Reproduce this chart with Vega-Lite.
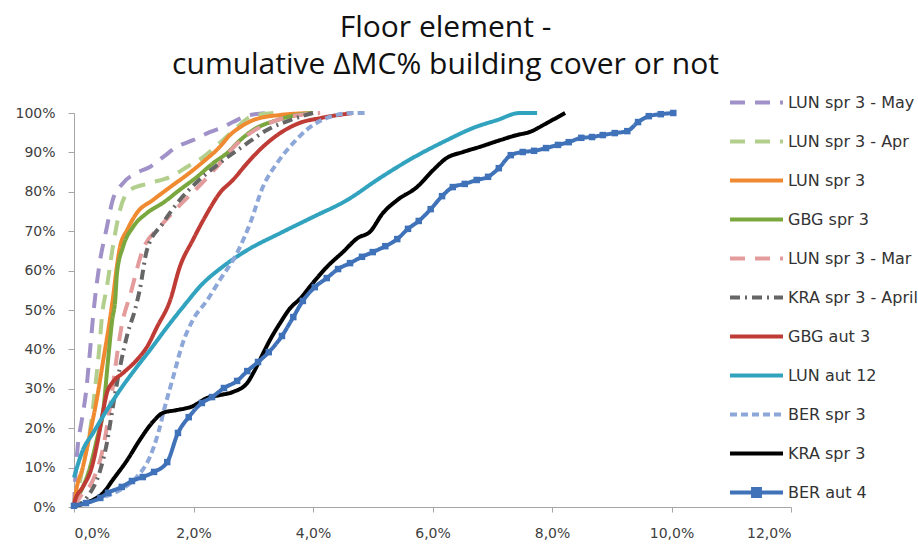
{
"$schema": "https://vega.github.io/schema/vega-lite/v6.json",
"autosize": {"type": "none"},
"padding": {"left": 74, "top": 113, "right": 127, "bottom": 37},
"width": 717,
"height": 394,
"background": "white",
"title": {"text": ["Floor element   -", "cumulative ΔMC% building cover or not"], "font": "Open Sans", "fontSize": 30, "fontWeight": "normal", "color": "#111111", "anchor": "middle", "dx": 13, "lineHeight": 37, "offset": -6},
"config": {"view": {"stroke": null}, "axis": {"grid": false, "labelFont": "DejaVu Sans", "labelColor": "#404040", "domainColor": "#a6a6a6", "tickColor": "#a6a6a6", "tickSize": 5, "title": null}},
"data": {"values": [
{"s":"LUN spr 3 - May","x":0,"y":0},{"s":"LUN spr 3 - May","x":0.02,"y":7},{"s":"LUN spr 3 - May","x":0.06,"y":15},{"s":"LUN spr 3 - May","x":0.13,"y":22},{"s":"LUN spr 3 - May","x":0.2,"y":29},{"s":"LUN spr 3 - May","x":0.27,"y":40},{"s":"LUN spr 3 - May","x":0.33,"y":50},{"s":"LUN spr 3 - May","x":0.42,"y":61},{"s":"LUN spr 3 - May","x":0.55,"y":71},{"s":"LUN spr 3 - May","x":0.65,"y":78},{"s":"LUN spr 3 - May","x":0.82,"y":82.2},{"s":"LUN spr 3 - May","x":1.05,"y":84.8},{"s":"LUN spr 3 - May","x":1.27,"y":86.3},{"s":"LUN spr 3 - May","x":1.49,"y":88.8},{"s":"LUN spr 3 - May","x":1.72,"y":91.4},{"s":"LUN spr 3 - May","x":1.99,"y":93.1},{"s":"LUN spr 3 - May","x":2.28,"y":95.2},{"s":"LUN spr 3 - May","x":2.49,"y":96.4},{"s":"LUN spr 3 - May","x":2.66,"y":97.7},{"s":"LUN spr 3 - May","x":2.95,"y":99.5},{"s":"LUN spr 3 - May","x":3.28,"y":100},
{"s":"LUN spr 3 - Apr","x":0,"y":0},{"s":"LUN spr 3 - Apr","x":0.07,"y":4.3},{"s":"LUN spr 3 - Apr","x":0.17,"y":11.9},{"s":"LUN spr 3 - Apr","x":0.27,"y":19.5},{"s":"LUN spr 3 - Apr","x":0.35,"y":29.7},{"s":"LUN spr 3 - Apr","x":0.42,"y":39.8},{"s":"LUN spr 3 - Apr","x":0.47,"y":48.7},{"s":"LUN spr 3 - Apr","x":0.55,"y":55.8},{"s":"LUN spr 3 - Apr","x":0.65,"y":66},{"s":"LUN spr 3 - Apr","x":0.77,"y":75.4},{"s":"LUN spr 3 - Apr","x":0.94,"y":80.5},{"s":"LUN spr 3 - Apr","x":1.27,"y":82.2},{"s":"LUN spr 3 - Apr","x":1.61,"y":83.8},{"s":"LUN spr 3 - Apr","x":1.89,"y":86.3},{"s":"LUN spr 3 - Apr","x":2.16,"y":88.8},{"s":"LUN spr 3 - Apr","x":2.49,"y":93.1},{"s":"LUN spr 3 - Apr","x":2.73,"y":96.4},{"s":"LUN spr 3 - Apr","x":2.95,"y":99},{"s":"LUN spr 3 - Apr","x":3.36,"y":100},
{"s":"LUN spr 3","x":0,"y":0},{"s":"LUN spr 3","x":0.02,"y":2.5},{"s":"LUN spr 3","x":0.15,"y":10.2},{"s":"LUN spr 3","x":0.27,"y":18.8},{"s":"LUN spr 3","x":0.38,"y":27.2},{"s":"LUN spr 3","x":0.49,"y":37.3},{"s":"LUN spr 3","x":0.6,"y":47.5},{"s":"LUN spr 3","x":0.66,"y":54},{"s":"LUN spr 3","x":0.7,"y":59},{"s":"LUN spr 3","x":0.77,"y":66},{"s":"LUN spr 3","x":0.89,"y":70.3},{"s":"LUN spr 3","x":1.05,"y":74.6},{"s":"LUN spr 3","x":1.32,"y":77.9},{"s":"LUN spr 3","x":1.61,"y":81.2},{"s":"LUN spr 3","x":1.89,"y":84.3},{"s":"LUN spr 3","x":2.16,"y":87.6},{"s":"LUN spr 3","x":2.44,"y":91.4},{"s":"LUN spr 3","x":2.61,"y":94.4},{"s":"LUN spr 3","x":2.78,"y":96.4},{"s":"LUN spr 3","x":3,"y":98.2},{"s":"LUN spr 3","x":3.45,"y":99.5},{"s":"LUN spr 3","x":4,"y":100},
{"s":"GBG spr 3","x":0,"y":0},{"s":"GBG spr 3","x":0.05,"y":1.8},{"s":"GBG spr 3","x":0.27,"y":10.2},{"s":"GBG spr 3","x":0.38,"y":17},{"s":"GBG spr 3","x":0.49,"y":24.6},{"s":"GBG spr 3","x":0.57,"y":37.3},{"s":"GBG spr 3","x":0.64,"y":47.5},{"s":"GBG spr 3","x":0.69,"y":52.5},{"s":"GBG spr 3","x":0.72,"y":59.4},{"s":"GBG spr 3","x":0.82,"y":66},{"s":"GBG spr 3","x":0.99,"y":71.1},{"s":"GBG spr 3","x":1.22,"y":74.6},{"s":"GBG spr 3","x":1.49,"y":77.2},{"s":"GBG spr 3","x":1.77,"y":80.5},{"s":"GBG spr 3","x":2.06,"y":83.8},{"s":"GBG spr 3","x":2.33,"y":87.3},{"s":"GBG spr 3","x":2.56,"y":89.8},{"s":"GBG spr 3","x":2.78,"y":93.1},{"s":"GBG spr 3","x":3,"y":95.7},{"s":"GBG spr 3","x":3.4,"y":98.2},{"s":"GBG spr 3","x":3.73,"y":99.5},{"s":"GBG spr 3","x":4,"y":100},
{"s":"LUN spr 3 - Mar","x":0,"y":0},{"s":"LUN spr 3 - Mar","x":0.1,"y":2.5},{"s":"LUN spr 3 - Mar","x":0.32,"y":6.9},{"s":"LUN spr 3 - Mar","x":0.49,"y":15.2},{"s":"LUN spr 3 - Mar","x":0.6,"y":25.1},{"s":"LUN spr 3 - Mar","x":0.72,"y":38.6},{"s":"LUN spr 3 - Mar","x":0.8,"y":46.2},{"s":"LUN spr 3 - Mar","x":0.94,"y":53.8},{"s":"LUN spr 3 - Mar","x":1.15,"y":65.2},{"s":"LUN spr 3 - Mar","x":1.44,"y":71.1},{"s":"LUN spr 3 - Mar","x":1.77,"y":76.6},{"s":"LUN spr 3 - Mar","x":2.11,"y":81.7},{"s":"LUN spr 3 - Mar","x":2.39,"y":86.3},{"s":"LUN spr 3 - Mar","x":2.69,"y":91.6},{"s":"LUN spr 3 - Mar","x":3,"y":95.4},{"s":"LUN spr 3 - Mar","x":3.36,"y":98},{"s":"LUN spr 3 - Mar","x":3.78,"y":99.5},{"s":"LUN spr 3 - Mar","x":4.12,"y":100},
{"s":"KRA spr 3 - April","x":0,"y":0},{"s":"KRA spr 3 - April","x":0.22,"y":2.5},{"s":"KRA spr 3 - April","x":0.44,"y":9.4},{"s":"KRA spr 3 - April","x":0.55,"y":16.2},{"s":"KRA spr 3 - April","x":0.65,"y":25.4},{"s":"KRA spr 3 - April","x":0.77,"y":35.5},{"s":"KRA spr 3 - April","x":0.9,"y":44.2},{"s":"KRA spr 3 - April","x":1.02,"y":50},{"s":"KRA spr 3 - April","x":1.1,"y":55.1},{"s":"KRA spr 3 - April","x":1.22,"y":65.2},{"s":"KRA spr 3 - April","x":1.49,"y":72.1},{"s":"KRA spr 3 - April","x":1.77,"y":77.9},{"s":"KRA spr 3 - April","x":2.06,"y":82.5},{"s":"KRA spr 3 - April","x":2.44,"y":87.3},{"s":"KRA spr 3 - April","x":2.86,"y":91.9},{"s":"KRA spr 3 - April","x":3.23,"y":95.7},{"s":"KRA spr 3 - April","x":3.62,"y":98.2},{"s":"KRA spr 3 - April","x":4,"y":100},
{"s":"GBG aut 3","x":0,"y":0},{"s":"GBG aut 3","x":0.02,"y":1.8},{"s":"GBG aut 3","x":0.15,"y":5.1},{"s":"GBG aut 3","x":0.3,"y":10.2},{"s":"GBG aut 3","x":0.4,"y":17},{"s":"GBG aut 3","x":0.49,"y":24.6},{"s":"GBG aut 3","x":0.55,"y":28.9},{"s":"GBG aut 3","x":0.65,"y":31.7},{"s":"GBG aut 3","x":0.82,"y":34},{"s":"GBG aut 3","x":1.05,"y":37.3},{"s":"GBG aut 3","x":1.22,"y":40.6},{"s":"GBG aut 3","x":1.39,"y":45.7},{"s":"GBG aut 3","x":1.61,"y":52.5},{"s":"GBG aut 3","x":1.77,"y":60.9},{"s":"GBG aut 3","x":1.99,"y":67.8},{"s":"GBG aut 3","x":2.23,"y":74.6},{"s":"GBG aut 3","x":2.44,"y":79.7},{"s":"GBG aut 3","x":2.66,"y":83},{"s":"GBG aut 3","x":2.9,"y":87.3},{"s":"GBG aut 3","x":3.16,"y":91.4},{"s":"GBG aut 3","x":3.45,"y":94.9},{"s":"GBG aut 3","x":3.78,"y":97.5},{"s":"GBG aut 3","x":4.12,"y":98.7},{"s":"GBG aut 3","x":4.67,"y":100},
{"s":"LUN aut 12","x":0,"y":7.5},{"s":"LUN aut 12","x":0.15,"y":14.5},{"s":"LUN aut 12","x":0.32,"y":18.8},{"s":"LUN aut 12","x":0.55,"y":24.6},{"s":"LUN aut 12","x":0.77,"y":29.7},{"s":"LUN aut 12","x":1.05,"y":35.5},{"s":"LUN aut 12","x":1.27,"y":39.8},{"s":"LUN aut 12","x":1.56,"y":45.7},{"s":"LUN aut 12","x":1.89,"y":52},{"s":"LUN aut 12","x":2.11,"y":56},{"s":"LUN aut 12","x":2.49,"y":61},{"s":"LUN aut 12","x":2.9,"y":65.2},{"s":"LUN aut 12","x":3.45,"y":69.5},{"s":"LUN aut 12","x":4,"y":73.6},{"s":"LUN aut 12","x":4.57,"y":77.9},{"s":"LUN aut 12","x":5.12,"y":83.5},{"s":"LUN aut 12","x":5.67,"y":88.6},{"s":"LUN aut 12","x":6.24,"y":93.1},{"s":"LUN aut 12","x":6.68,"y":96.2},{"s":"LUN aut 12","x":7.08,"y":98.2},{"s":"LUN aut 12","x":7.46,"y":100},{"s":"LUN aut 12","x":7.75,"y":100},
{"s":"BER spr 3","x":0,"y":0},{"s":"BER spr 3","x":0.15,"y":1},{"s":"BER spr 3","x":0.49,"y":2.5},{"s":"BER spr 3","x":0.77,"y":4.3},{"s":"BER spr 3","x":1.05,"y":7.6},{"s":"BER spr 3","x":1.27,"y":12.7},{"s":"BER spr 3","x":1.41,"y":18.8},{"s":"BER spr 3","x":1.52,"y":25.4},{"s":"BER spr 3","x":1.66,"y":33},{"s":"BER spr 3","x":1.82,"y":41.6},{"s":"BER spr 3","x":1.99,"y":47.5},{"s":"BER spr 3","x":2.23,"y":52.5},{"s":"BER spr 3","x":2.44,"y":57.6},{"s":"BER spr 3","x":2.73,"y":64.5},{"s":"BER spr 3","x":2.95,"y":72.1},{"s":"BER spr 3","x":3.16,"y":81.2},{"s":"BER spr 3","x":3.4,"y":87.3},{"s":"BER spr 3","x":3.67,"y":92.4},{"s":"BER spr 3","x":3.95,"y":96.4},{"s":"BER spr 3","x":4.28,"y":99},{"s":"BER spr 3","x":4.67,"y":100},{"s":"BER spr 3","x":4.9,"y":100},
{"s":"KRA spr 3","x":0,"y":0.3},{"s":"KRA spr 3","x":0.32,"y":1.8},{"s":"KRA spr 3","x":0.49,"y":3.6},{"s":"KRA spr 3","x":0.65,"y":6.9},{"s":"KRA spr 3","x":0.89,"y":11.9},{"s":"KRA spr 3","x":1.1,"y":17},{"s":"KRA spr 3","x":1.32,"y":21.6},{"s":"KRA spr 3","x":1.49,"y":23.9},{"s":"KRA spr 3","x":1.72,"y":24.6},{"s":"KRA spr 3","x":1.99,"y":25.6},{"s":"KRA spr 3","x":2.23,"y":27.7},{"s":"KRA spr 3","x":2.44,"y":28.4},{"s":"KRA spr 3","x":2.66,"y":29.2},{"s":"KRA spr 3","x":2.9,"y":31.5},{"s":"KRA spr 3","x":3,"y":34},{"s":"KRA spr 3","x":3.11,"y":37.3},{"s":"KRA spr 3","x":3.28,"y":42.4},{"s":"KRA spr 3","x":3.45,"y":46.7},{"s":"KRA spr 3","x":3.62,"y":50.5},{"s":"KRA spr 3","x":3.78,"y":52.8},{"s":"KRA spr 3","x":4,"y":56.9},{"s":"KRA spr 3","x":4.23,"y":60.9},{"s":"KRA spr 3","x":4.5,"y":64.7},{"s":"KRA spr 3","x":4.75,"y":68.3},{"s":"KRA spr 3","x":4.95,"y":69.8},{"s":"KRA spr 3","x":5.17,"y":74.6},{"s":"KRA spr 3","x":5.41,"y":77.9},{"s":"KRA spr 3","x":5.74,"y":81.2},{"s":"KRA spr 3","x":6.01,"y":85.5},{"s":"KRA spr 3","x":6.24,"y":88.6},{"s":"KRA spr 3","x":6.51,"y":90.1},{"s":"KRA spr 3","x":6.79,"y":91.4},{"s":"KRA spr 3","x":7.13,"y":93.1},{"s":"KRA spr 3","x":7.41,"y":94.4},{"s":"KRA spr 3","x":7.63,"y":95.2},{"s":"KRA spr 3","x":7.92,"y":97.5},{"s":"KRA spr 3","x":8.22,"y":100},
{"s":"BER aut 4","x":0,"y":0.3},{"s":"BER aut 4","x":0.2,"y":1},{"s":"BER aut 4","x":0.44,"y":2.3},{"s":"BER aut 4","x":0.57,"y":3.6},{"s":"BER aut 4","x":0.8,"y":5.1},{"s":"BER aut 4","x":0.97,"y":6.6},{"s":"BER aut 4","x":1.15,"y":7.6},{"s":"BER aut 4","x":1.34,"y":8.9},{"s":"BER aut 4","x":1.56,"y":11.4},{"s":"BER aut 4","x":1.74,"y":18.8},{"s":"BER aut 4","x":1.92,"y":22.8},{"s":"BER aut 4","x":2.14,"y":26.4},{"s":"BER aut 4","x":2.31,"y":27.9},{"s":"BER aut 4","x":2.51,"y":30.2},{"s":"BER aut 4","x":2.73,"y":32},{"s":"BER aut 4","x":2.9,"y":34.5},{"s":"BER aut 4","x":3.08,"y":36.8},{"s":"BER aut 4","x":3.26,"y":39.3},{"s":"BER aut 4","x":3.48,"y":43.4},{"s":"BER aut 4","x":3.67,"y":48.2},{"s":"BER aut 4","x":3.83,"y":52.3},{"s":"BER aut 4","x":4.03,"y":55.8},{"s":"BER aut 4","x":4.23,"y":58.1},{"s":"BER aut 4","x":4.42,"y":60.4},{"s":"BER aut 4","x":4.62,"y":61.9},{"s":"BER aut 4","x":4.82,"y":63.5},{"s":"BER aut 4","x":5,"y":64.7},{"s":"BER aut 4","x":5.21,"y":66.2},{"s":"BER aut 4","x":5.41,"y":68},{"s":"BER aut 4","x":5.59,"y":70.6},{"s":"BER aut 4","x":5.77,"y":72.6},{"s":"BER aut 4","x":5.97,"y":75.6},{"s":"BER aut 4","x":6.16,"y":78.9},{"s":"BER aut 4","x":6.34,"y":81.2},{"s":"BER aut 4","x":6.54,"y":82},{"s":"BER aut 4","x":6.74,"y":83},{"s":"BER aut 4","x":6.93,"y":83.8},{"s":"BER aut 4","x":7.11,"y":86},{"s":"BER aut 4","x":7.31,"y":89.3},{"s":"BER aut 4","x":7.51,"y":90.1},{"s":"BER aut 4","x":7.7,"y":90.4},{"s":"BER aut 4","x":7.9,"y":91.1},{"s":"BER aut 4","x":8.1,"y":91.9},{"s":"BER aut 4","x":8.28,"y":92.6},{"s":"BER aut 4","x":8.49,"y":93.7},{"s":"BER aut 4","x":8.67,"y":93.9},{"s":"BER aut 4","x":8.85,"y":94.4},{"s":"BER aut 4","x":9.05,"y":94.9},{"s":"BER aut 4","x":9.26,"y":95.4},{"s":"BER aut 4","x":9.44,"y":97.7},{"s":"BER aut 4","x":9.62,"y":99.2},{"s":"BER aut 4","x":9.82,"y":99.7},{"s":"BER aut 4","x":10.03,"y":100}
]},
"encoding": {
  "x": {"field": "x", "type": "quantitative", "scale": {"domain": [0, 12], "nice": false, "zero": true}, "axis": {"values": [0,2,4,6,8,10,12], "labelExpr": "replace(format(datum.value, '.1f'), '.', ',') + '%'", "labelFontSize": 14, "labelPadding": 14}},
  "y": {"field": "y", "type": "quantitative", "scale": {"domain": [0, 100], "nice": false}, "axis": {"values": [0,10,20,30,40,50,60,70,80,90,100], "labelExpr": "datum.value + '%'", "labelFontSize": 14, "labelPadding": 13, "tickSize": 6}}
},
"layer": [
  {
    "mark": {"type": "line", "interpolate": "monotone"},
    "encoding": {
      "color": {"field": "s", "type": "nominal", "scale": {"domain": ["LUN spr 3 - May","LUN spr 3 - Apr","LUN spr 3","GBG spr 3","LUN spr 3 - Mar","KRA spr 3 - April","GBG aut 3","LUN aut 12","BER spr 3","KRA spr 3","BER aut 4"], "range": ["#a092c8","#b3cf8d","#f08a30","#7aa83e","#e39b9b","#666666","#bf3b35","#31a3bf","#8ea7d9","#000000","#3f72b9"]},
        "legend": {"title": null, "orient": "none", "legendX": 654, "legendY": -39, "symbolType": "stroke", "symbolSize": 2809, "symbolStrokeWidth": 3, "labelFont": "DejaVu Sans", "labelFontSize": 16, "labelColor": "#333333", "labelOffset": 3, "rowPadding": 2, "labelLimit": 300,
          "encode": {"symbols": {"update": {"shape": {"signal": "datum.value === 'BER aut 4' ? 'M-1,0H1M-0.13,-0.13H0.13V0.13H-0.13Z' : 'stroke'"}, "fill": {"signal": "datum.value === 'BER aut 4' ? '#3f72b9' : 'transparent'"}}}}}},
      "strokeDash": {"field": "s", "type": "nominal", "scale": {"domain": ["LUN spr 3 - May","LUN spr 3 - Apr","LUN spr 3","GBG spr 3","LUN spr 3 - Mar","KRA spr 3 - April","GBG aut 3","LUN aut 12","BER spr 3","KRA spr 3","BER aut 4"], "range": [[15,10],[15,10],[1,0],[1,0],[15,10],[10,5,2,5],[1,0],[1,0],[7,4],[1,0],[1,0]]}},
      "strokeWidth": {"field": "s", "type": "nominal", "scale": {"domain": ["LUN spr 3 - May","LUN spr 3 - Apr","LUN spr 3","GBG spr 3","LUN spr 3 - Mar","KRA spr 3 - April","GBG aut 3","LUN aut 12","BER spr 3","KRA spr 3","BER aut 4"], "range": [4,4,3.5,3.5,4,2,3.5,3.5,1.8,1.9,2.5]}, "legend": null}
    }
  },
  {
    "transform": [{"filter": "datum.s === 'BER aut 4'"}],
    "mark": {"type": "point", "shape": "square", "filled": true, "size": 42, "color": "#3f72b9", "opacity": 1}
  }
]
}
